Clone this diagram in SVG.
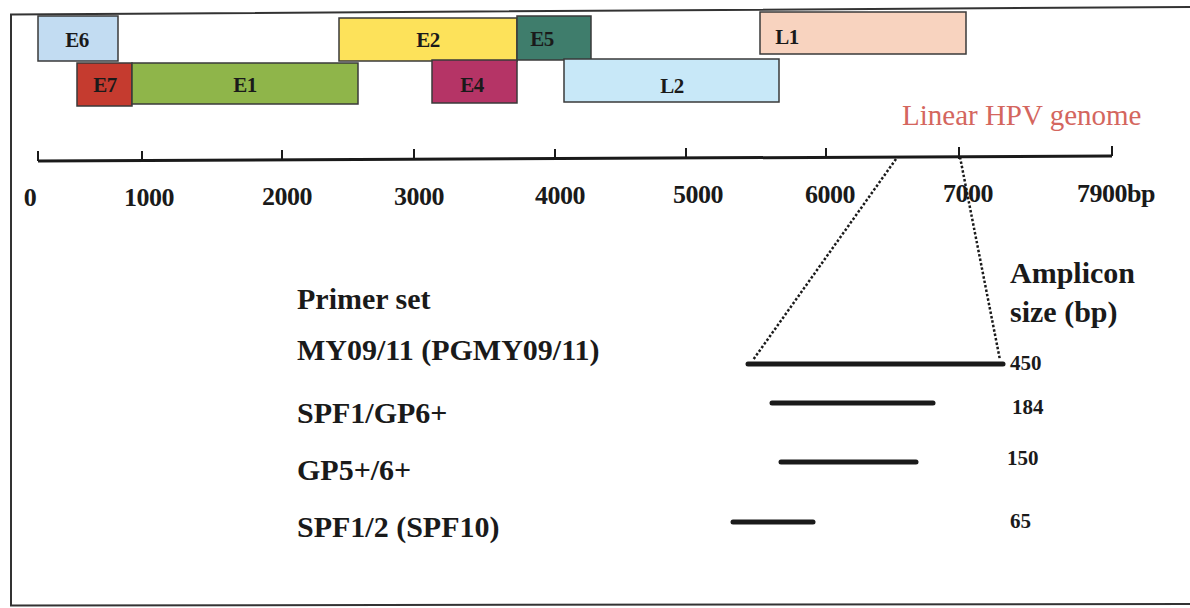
<svg xmlns="http://www.w3.org/2000/svg" width="1190" height="608" viewBox="0 0 1190 608">
  <style>
    .gene { stroke: #3a3a3a; stroke-width: 1.5; }
    .glab { font-family: "Liberation Serif", "Times New Roman", serif; font-weight: bold; font-size: 21px; fill: #1a1a1a; text-anchor: middle; letter-spacing: -0.5px; }
    .axl { font-family: "Liberation Serif", "Times New Roman", serif; font-weight: bold; font-size: 26px; fill: #1a1a1a; text-anchor: middle; letter-spacing: -0.5px; }
    .big { font-family: "Liberation Serif", "Times New Roman", serif; font-weight: bold; font-size: 30px; fill: #1a1a1a; }
    .num { font-family: "Liberation Serif", "Times New Roman", serif; font-weight: bold; font-size: 21px; fill: #1a1a1a; }
    .amp { stroke: #1a1a1a; stroke-width: 5; stroke-linecap: round; }
    .dot { stroke: #1a1a1a; stroke-width: 2.5; stroke-dasharray: 2.5 2; fill: none; }
    .tick { stroke: #1a1a1a; stroke-width: 2; }
  </style>
  <rect x="0" y="0" width="1190" height="608" fill="#ffffff"/>
  <path d="M 1192 7 L 11 14.5 L 11 605.5 L 1192 604" fill="none" stroke="#333333" stroke-width="2"/>

  <g id="E6"><rect class="gene" x="38" y="16" width="80" height="45" fill="#c2dcf2"/><text class="glab" x="77" y="47">E6</text></g>
  <g id="E2"><rect class="gene" x="339" y="18" width="178" height="43" fill="#fde25a"/><text class="glab" x="428" y="47">E2</text></g>
  <g id="E5"><rect class="gene" x="517" y="16" width="74" height="44" fill="#3f7d6c"/><text class="glab" x="542" y="46">E5</text></g>
  <g id="L1"><rect class="gene" x="760" y="12" width="206" height="42" fill="#f8d3bf"/><text class="glab" x="787" y="44">L1</text></g>
  <g id="E7"><rect class="gene" x="77" y="63" width="55" height="43" fill="#c53b2f"/><text class="glab" x="105" y="92">E7</text></g>
  <g id="E1"><rect class="gene" x="132" y="63" width="226" height="41" fill="#8fb54a"/><text class="glab" x="245" y="92">E1</text></g>
  <g id="E4"><rect class="gene" x="432" y="60" width="85" height="43" fill="#b53466"/><text class="glab" x="472" y="92">E4</text></g>
  <g id="L2"><rect class="gene" x="564" y="59" width="215" height="43" fill="#c8e8f8"/><text class="glab" x="672" y="93">L2</text></g>

  <g id="axis">
    <line x1="38" y1="161" x2="1112" y2="156" stroke="#1a1a1a" stroke-width="3"/>
    <line class="tick" x1="38" y1="151" x2="38" y2="161"/>
    <line class="tick" x1="142" y1="151" x2="142" y2="160.5"/>
    <line class="tick" x1="282" y1="150" x2="282" y2="160"/>
    <line class="tick" x1="414" y1="149" x2="414" y2="159"/>
    <line class="tick" x1="555" y1="149" x2="555" y2="158.5"/>
    <line class="tick" x1="686" y1="148" x2="686" y2="158"/>
    <line class="tick" x1="826" y1="148" x2="826" y2="157.5"/>
    <line class="tick" x1="959" y1="147" x2="959" y2="159"/>
    <line class="tick" x1="1112" y1="146" x2="1112" y2="156"/>
    <text class="axl" x="30" y="206">0</text>
    <text class="axl" x="149" y="206">1000</text>
    <text class="axl" x="287" y="205">2000</text>
    <text class="axl" x="419" y="205">3000</text>
    <text class="axl" x="560" y="204">4000</text>
    <text class="axl" x="698" y="203">5000</text>
    <text class="axl" x="830" y="203">6000</text>
    <text class="axl" x="968" y="202">7000</text>
    <text class="axl" x="1116" y="202">7900bp</text>
  </g>

  <g id="genome-label"><text x="902" y="125" font-family="Liberation Serif, Times New Roman, serif" font-size="29" fill="#d4665e">Linear HPV genome</text></g>

  <g id="connectors">
    <line class="dot" x1="896" y1="159" x2="753" y2="360"/>
    <line class="dot" x1="960" y1="157" x2="1000" y2="360"/>
  </g>

  <g id="primer-header"><text class="big" x="297" y="309">Primer set</text></g>
  <g id="amplicon-header"><text class="big" x="1010" y="283">Amplicon</text><text class="big" x="1010" y="322">size (bp)</text></g>

  <g id="MY09-11">
    <text class="big" x="297" y="360">MY09/11 (PGMY09/11)</text>
    <line class="amp" x1="748" y1="364" x2="1003" y2="364"/>
    <text class="num" x="1010" y="370">450</text>
  </g>
  <g id="SPF1-GP6">
    <text class="big" x="297" y="423">SPF1/GP6+</text>
    <line class="amp" x1="772" y1="403" x2="933" y2="403"/>
    <text class="num" x="1012" y="414">184</text>
  </g>
  <g id="GP5-6">
    <text class="big" x="297" y="480">GP5+/6+</text>
    <line class="amp" x1="781" y1="462" x2="916" y2="462"/>
    <text class="num" x="1007" y="465">150</text>
  </g>
  <g id="SPF1-2">
    <text class="big" x="297" y="537">SPF1/2 (SPF10)</text>
    <line class="amp" x1="733" y1="522" x2="813" y2="522"/>
    <text class="num" x="1010" y="528">65</text>
  </g>
</svg>
